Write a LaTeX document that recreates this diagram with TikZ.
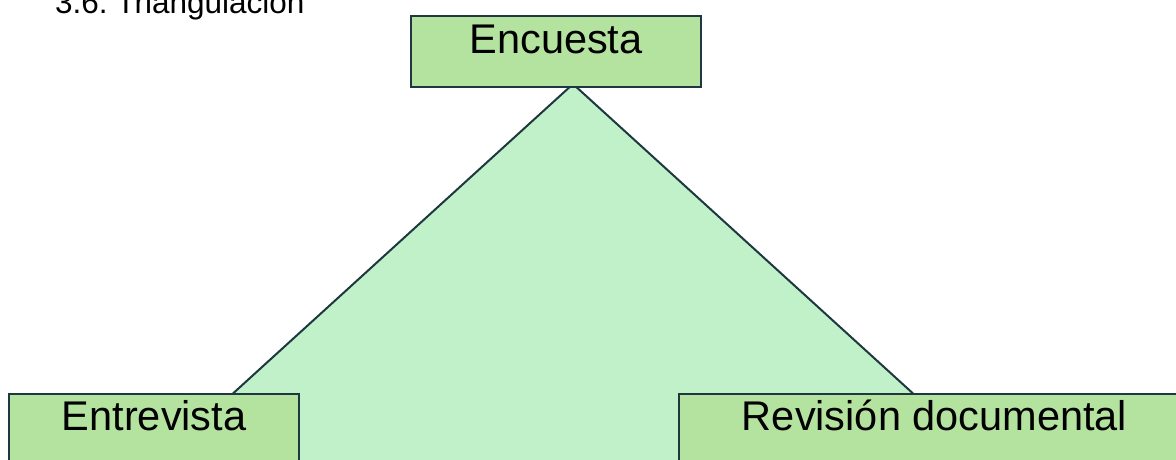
\documentclass[tikz,border=0pt]{standalone}
\usepackage{fontspec}
\setmainfont{Liberation Sans}
\usepackage{xcolor}
\usetikzlibrary{backgrounds}
\definecolor{boxgreen}{RGB}{180,227,160}
\definecolor{trigreen}{RGB}{192,241,201}
\definecolor{edgeblue}{RGB}{30,55,65}

\begin{document}
\begin{tikzpicture}[x=1pt, y=1pt,
    metodo/.style={draw=edgeblue, line width=2.2pt, fill=boxgreen, inner sep=0pt,
      text height=36pt, text depth=35pt, anchor=north west,
      font=\fontsize{41.5}{45}\selectfont}]

        \useasboundingbox (0,0) rectangle (1176,459);
        \clip (0,0) rectangle (1176,459);

        % Title (cut by the top edge)
        \node[anchor=base west, inner sep=0pt, font=\fontsize{31.5}{36}\selectfont] (titulo) at (55,445) {3.6.\ Triangulación};

        % The three methods
        \node[metodo, minimum width=290pt, text height=37pt, text depth=34pt] (encuesta) at (410,444) {Encuesta};
        \node[metodo, minimum width=290pt] (entrevista) at (8,66) {Entrevista};
        \node[metodo, minimum width=511pt] (revision) at (678,66) {Revisión documental};

        % Triangle behind the boxes
        \coordinate (vertice) at (573,375);
        \coordinate (izq) at (139,-20);
        \coordinate (der) at (1007,-20);
        \begin{scope}[on background layer]
          \fill[trigreen] (vertice) -- (izq) -- (der) -- cycle;
          \draw[edgeblue, line width=2pt] (izq) -- (vertice) -- (der);
        \end{scope}

      \end{tikzpicture}
\end{document}
